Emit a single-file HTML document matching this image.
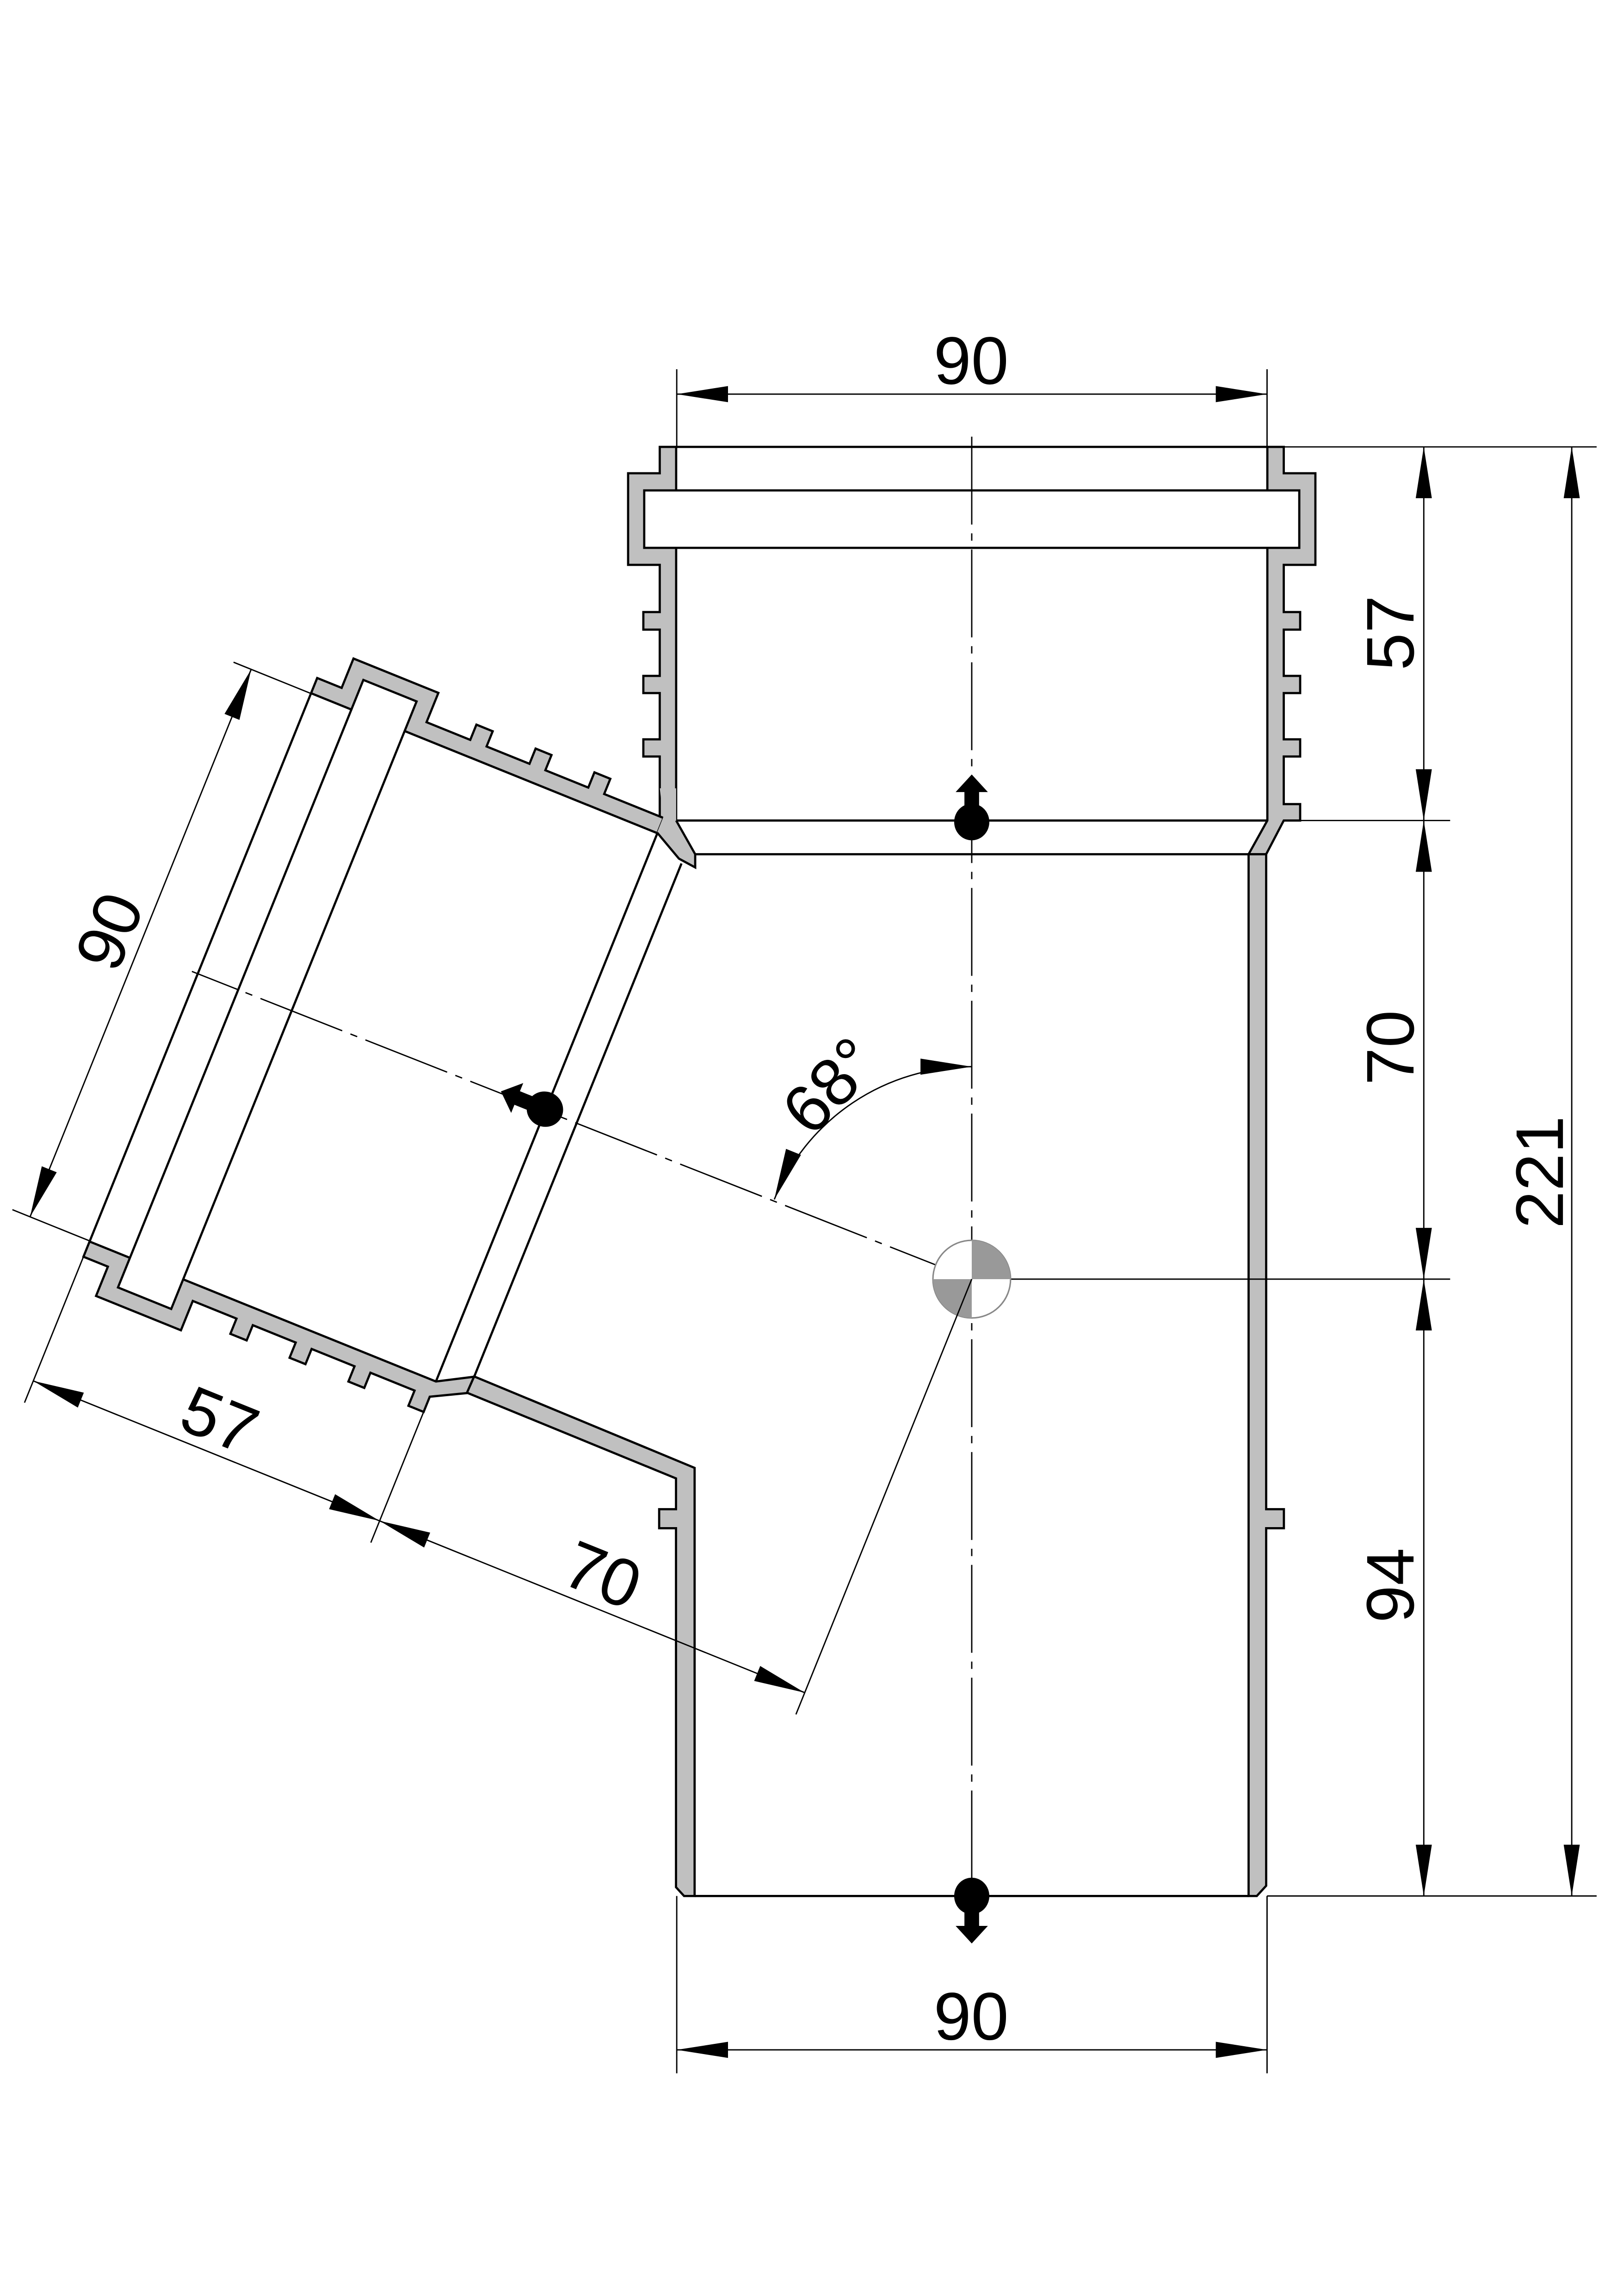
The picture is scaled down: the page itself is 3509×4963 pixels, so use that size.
<!DOCTYPE html>
<html><head><meta charset="utf-8"><style>
html,body{margin:0;padding:0;background:#fff}
svg{display:block}
text{font-family:"Liberation Sans","DejaVu Sans",sans-serif;font-size:46px;fill:#000}
</style></head><body>
<svg width="3509" height="4963" viewBox="0 0 1108 1567" preserveAspectRatio="none" xmlns="http://www.w3.org/2000/svg">
<defs>
<polygon id="ah" points="0,0 -5.5,35 5.5,35" fill="#000"/>
<g id="sock" stroke="#000" stroke-width="1.5" stroke-linejoin="miter">
<path fill="#c0c0c0" d="M450.4,305 L461.6,305 L461.6,560 L450.4,560 L450.4,516.3 L439.2,516.3 L439.2,504.6 L450.4,504.6 L450.4,473 L439.2,473 L439.2,461.3 L450.4,461.3 L450.4,429.7 L439.2,429.7 L439.2,417.7 L450.4,417.7 L450.4,385.5 L428.8,385.5 L428.8,323 L450.4,323 Z"/>
<path fill="#c0c0c0" d="M865.2,305 L876.4,305 L876.4,323 L898,323 L898,385.5 L876.4,385.5 L876.4,417.7 L887.6,417.7 L887.6,429.7 L876.4,429.7 L876.4,461.3 L887.6,461.3 L887.6,473 L876.4,473 L876.4,504.6 L887.6,504.6 L887.6,516.3 L876.4,516.3 L876.4,548.8 L887.6,548.8 L887.6,560 L876.4,560 L864.4,583 L852.4,583 L865.2,560 Z"/>
<rect x="439.8" y="334.7" width="447.2" height="39.2" fill="#fff"/>
<line x1="461.6" y1="305" x2="865.2" y2="305"/>
<line x1="461.6" y1="560" x2="865.2" y2="560"/>
<line x1="474.6" y1="583" x2="852.4" y2="583"/>
</g>
<g id="mk" fill="#000">
<ellipse cx="0" cy="0" rx="12" ry="12.5"/>
<rect x="-5" y="-21" width="10" height="12"/>
<polygon points="-11,-20.4 11,-20.4 0,-32.4"/>
</g>
</defs>

<!-- main socket -->
<use href="#sock"/>
<!-- branch socket -->
<g transform="rotate(-68 663.4 873) translate(1326.8 0) scale(-1 1)"><use href="#sock"/></g>

<!-- junction fillet -->
<polygon fill="#c0c0c0" points="450.4,538 461.6,538 461.6,560 474.6,583 474.6,592 463.5,586 448.6,568.2 452.8,557.8"/>
<polyline fill="none" stroke="#000" stroke-width="1.5" points="461.6,560 474.6,583 474.6,592 463.5,586 448.6,568.2"/>

<!-- lower left wall (branch + main) -->
<polygon fill="#c0c0c0" stroke="#000" stroke-width="1.5" points="323.7,939.4 474.2,1001.8 474.2,1294 467,1294 461.5,1288 461.5,1043 450,1043 450,1030 461.5,1030 461.5,1009 318.8,950.5"/>
<!-- right main wall -->
<polygon fill="#c0c0c0" stroke="#000" stroke-width="1.5" points="852.4,583 864.4,583 864.4,1030 876.5,1030 876.5,1043 864.4,1043 864.4,1287 858,1294 852.4,1294"/>
<line x1="474.2" y1="1294" x2="852.4" y2="1294" stroke="#000" stroke-width="1.5"/>

<!-- axes -->
<g stroke="#000" stroke-width="0.9" fill="none">
<line x1="663.4" y1="298" x2="663.4" y2="1300" stroke-dasharray="60 6 5 6"/>
<line x1="663.4" y1="873" x2="131" y2="663" stroke-dasharray="60 6 5 6"/>
<line x1="690" y1="873" x2="990" y2="873"/>
</g>

<!-- center mark -->
<circle cx="663.4" cy="873" r="26.5" fill="#fff" stroke="#888" stroke-width="1"/>
<path d="M663.4,873 L663.4,846.5 A26.5,26.5 0 0 1 689.9,873 Z" fill="#999"/>
<path d="M663.4,873 L663.4,899.5 A26.5,26.5 0 0 1 636.9,873 Z" fill="#999"/>

<!-- markers -->
<use href="#mk" transform="translate(663.4,561)"/>
<use href="#mk" transform="translate(663.4,1294) rotate(180)"/>
<use href="#mk" transform="translate(372,757) rotate(-68)"/>

<!-- dimensions main -->
<g stroke="#000" stroke-width="0.9" fill="none">
<line x1="462" y1="252" x2="462" y2="305"/>
<line x1="865" y1="252" x2="865" y2="305"/>
<line x1="462" y1="269" x2="865" y2="269"/>
<line x1="462" y1="1294" x2="462" y2="1415"/>
<line x1="865" y1="1294" x2="865" y2="1415"/>
<line x1="462" y1="1399" x2="865" y2="1399"/>
<line x1="876" y1="305" x2="1090" y2="305"/>
<line x1="888" y1="560" x2="990" y2="560"/>
<line x1="865" y1="1294" x2="1090" y2="1294"/>
<line x1="972" y1="305" x2="972" y2="1294"/>
<line x1="1073" y1="305" x2="1073" y2="1294"/>
</g>
<use href="#ah" transform="translate(462,269) rotate(-90)"/>
<use href="#ah" transform="translate(865,269) rotate(90)"/>
<use href="#ah" transform="translate(462,1399) rotate(-90)"/>
<use href="#ah" transform="translate(865,1399) rotate(90)"/>
<use href="#ah" transform="translate(972,305)"/>
<use href="#ah" transform="translate(972,560) rotate(180)"/>
<use href="#ah" transform="translate(972,560)"/>
<use href="#ah" transform="translate(972,873) rotate(180)"/>
<use href="#ah" transform="translate(972,873)"/>
<use href="#ah" transform="translate(972,1294) rotate(180)"/>
<use href="#ah" transform="translate(1073,305)"/>
<use href="#ah" transform="translate(1073,1294) rotate(180)"/>
<text x="663" y="262" text-anchor="middle">90</text>
<text x="663" y="1392" text-anchor="middle">90</text>
<text transform="translate(965,432) rotate(-90)" text-anchor="middle">57</text>
<text transform="translate(965,715) rotate(-90)" text-anchor="middle">70</text>
<text transform="translate(965,1082) rotate(-90)" text-anchor="middle">94</text>
<text transform="translate(1067,800) rotate(-90)" text-anchor="middle">221</text>

<!-- branch dimensions -->
<g transform="rotate(-68 663.4 873)">
<g stroke="#000" stroke-width="0.9" fill="none">
<line x1="462" y1="248" x2="462" y2="305"/>
<line x1="865" y1="248" x2="865" y2="305"/>
<line x1="462" y1="261" x2="865" y2="261"/>
<line x1="450" y1="305" x2="343" y2="305"/>
<line x1="440" y1="560" x2="343" y2="560"/>
<line x1="663.4" y1="873" x2="343" y2="873"/>
<line x1="359" y1="305" x2="359" y2="873"/>
</g>
<use href="#ah" transform="translate(462,261) rotate(-90)"/>
<use href="#ah" transform="translate(865,261) rotate(90)"/>
<use href="#ah" transform="translate(359,305)"/>
<use href="#ah" transform="translate(359,560) rotate(180)"/>
<use href="#ah" transform="translate(359,560)"/>
<use href="#ah" transform="translate(359,873) rotate(180)"/>
<text x="663" y="254" text-anchor="middle">90</text>
<text transform="translate(366,433) rotate(90)" text-anchor="middle">57</text>
<text transform="translate(366,715) rotate(90)" text-anchor="middle">70</text>
</g>

<!-- angle -->
<path d="M528.6,818.6 A145,145 0 0 1 663.4,728" fill="none" stroke="#000" stroke-width="0.9"/>
<use href="#ah" transform="translate(663.4,728) rotate(90)"/>
<use href="#ah" transform="translate(528.6,818.6) rotate(-158)"/>
<text transform="translate(578,752) rotate(-46)" text-anchor="middle">68°</text>
</svg>
</body></html>
